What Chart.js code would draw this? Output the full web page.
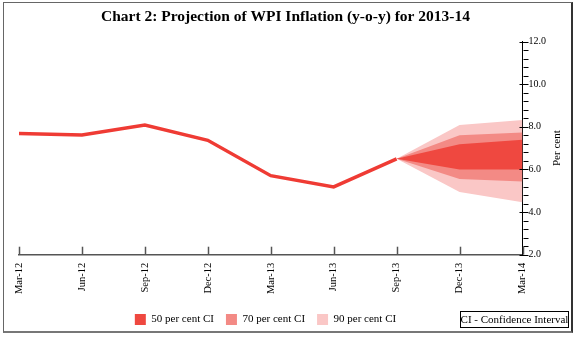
<!DOCTYPE html>
<html>
<head>
<meta charset="utf-8">
<title>WPI Inflation projection</title>
<script src="https://cdn.jsdelivr.net/npm/chart.js@4/dist/chart.umd.min.js"></script>
<style>
  html, body { margin: 0; padding: 0; background: #fff; }
  #wrap { position: relative; width: 576px; height: 338px; }
  #frame {
    position: absolute; left: 3px; top: 2px; width: 567px; height: 328px;
    border: 1px solid #666; border-right: 2px solid #333; border-bottom: 2px solid #777;
    pointer-events: none;
  }
</style>
</head>
<body>
<div id="wrap">
  <canvas id="wpiChart" width="576" height="338"></canvas>
  <div id="frame"></div>
</div>
<script>
const quarters = ['Mar-12', 'Jun-12', 'Sep-12', 'Dec-12', 'Mar-13', 'Jun-13', 'Sep-13', 'Dec-13', 'Mar-14'];
const wpiActual = [7.69, 7.62, 8.08, 7.37, 5.71, 5.18, 6.5, null, null];

// confidence bands, starting from the last actual reading
const ci50High = [null, null, null, null, null, null, 6.5, 7.18, 7.39];
const ci50Low = [null, null, null, null, null, null, 6.5, 6.0, 6.0];
const ci70High = [null, null, null, null, null, null, 6.5, 7.6, 7.74];
const ci70Low = [null, null, null, null, null, null, 6.5, 5.55, 5.43];
const ci90High = [null, null, null, null, null, null, 6.5, 8.09, 8.32];
const ci90Low = [null, null, null, null, null, null, 6.5, 4.94, 4.46];

const yMin = 2, yMax = 12, yStep = 2, yMinorStep = 0.4;

const serif = 'Liberation Serif, Times New Roman, serif';

function band(label, data, color, fillTo, order) {
  return {
    label: label,
    data: data,
    borderWidth: 0,
    borderColor: color,
    backgroundColor: color,
    pointRadius: 0,
    fill: fillTo,
    order: order,
  };
}

// axis tick marks, the right-hand axis caption and the note box
const chartExtras = {
  id: 'chartExtras',
  afterLayout(chart) {
    // legend sits a little left of centre, clear of the note box
    chart.legend.left -= 20;
    chart.legend.right -= 20;
  },
  afterDraw(chart) {
    const ctx = chart.ctx;
    const x = chart.scales.x;
    const y = chart.scales.y;
    const area = chart.chartArea;
    ctx.save();

    ctx.strokeStyle = '#555';
    ctx.lineWidth = 1.5;
    x.ticks.forEach((t, i) => {
      const px = Math.round(x.getPixelForTick(i)) + 0.5;
      ctx.beginPath();
      ctx.moveTo(px, area.bottom);
      ctx.lineTo(px, area.bottom - 8);
      ctx.stroke();
    });

    ctx.strokeStyle = '#000';
    ctx.lineWidth = 1;
    const ax = Math.round(area.right) + 0.5;
    for (let v = yMin; v <= yMax + 1e-6; v += yMinorStep) {
      const py = Math.round(y.getPixelForValue(v)) + 0.5;
      const major = Math.abs(v / yStep - Math.round(v / yStep)) < 1e-6;
      ctx.beginPath();
      ctx.moveTo(major ? ax - 4 : ax, py);
      ctx.lineTo(ax + 5, py);
      ctx.stroke();
    }

    ctx.fillStyle = '#000';
    ctx.font = '11px ' + serif;
    ctx.textAlign = 'center';
    ctx.textBaseline = 'middle';
    ctx.translate(area.right + 35, (area.top + area.bottom) / 2);
    ctx.rotate(-Math.PI / 2);
    ctx.fillText('Per cent', 0, 0);
    ctx.setTransform(1, 0, 0, 1, 0, 0);

    ctx.font = '11px ' + serif;
    ctx.strokeStyle = '#000';
    ctx.strokeRect(460.5, 311.5, 108, 16);
    ctx.fillText('CI - Confidence Interval', 514.5, 320);
    ctx.restore();
  }
};

new Chart(document.getElementById('wpiChart'), {
  type: 'line',
  data: {
    labels: quarters,
    datasets: [
      {
        label: 'WPI',
        data: wpiActual,
        borderColor: '#ef3b34',
        borderWidth: 3.5,
        pointRadius: 0,
        fill: false,
        order: 0,
      },
      band('50 per cent CI', ci50High, '#ef4840', 2, 1),
      band('', ci50Low, '#ef4840', false, 1),
      band('70 per cent CI', ci70High, '#f38a85', 4, 2),
      band('', ci70Low, '#f38a85', false, 2),
      band('90 per cent CI', ci90High, '#fac7c6', 6, 3),
      band('', ci90Low, '#fac7c6', false, 3),
    ],
  },
  options: {
    responsive: false,
    animation: false,
    layout: { padding: { left: 19, right: 24, top: 0, bottom: 3 } },
    plugins: {
      title: {
        display: true,
        text: 'Chart 2: Projection of WPI Inflation (y-o-y) for 2013-14',
        color: '#000',
        font: { family: serif, size: 15.5, weight: 'bold' },
        padding: { top: 8, bottom: 15 },
      },
      legend: {
        position: 'bottom',
        labels: {
          color: '#000',
          font: { family: serif, size: 11 },
          boxWidth: 11,
          boxHeight: 11,
          padding: 12,
          filter: (item) => item.text.indexOf('CI') > 0,
        },
      },
      tooltip: { enabled: false },
    },
    scales: {
      x: {
        offset: false,
        grid: { display: false, drawTicks: false },
        border: { display: true, color: '#555', width: 1.5 },
        ticks: {
          color: '#000',
          font: { family: serif, size: 10.5 },
          maxRotation: 90,
          minRotation: 90,
          padding: 8,
        },
      },
      y: {
        position: 'right',
        min: yMin,
        max: yMax,
        grid: { display: false, drawTicks: false },
        border: { display: true, color: '#000', width: 1 },
        ticks: {
          stepSize: yStep,
          color: '#000',
          font: { family: serif, size: 10 },
          padding: 6,
          callback: (v) => v.toFixed(1),
        },
      },
    },
  },
  plugins: [chartExtras],
});
</script>
</body>
</html>
